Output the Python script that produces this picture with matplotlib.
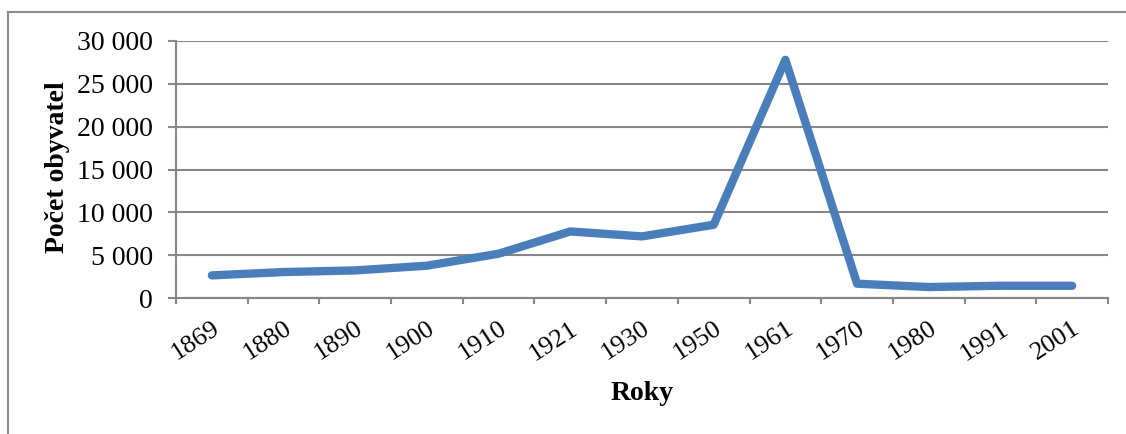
"""Population development by census year (line chart)."""

import numpy as np
from matplotlib import pyplot as plt
from matplotlib.lines import Line2D
from matplotlib.ticker import FuncFormatter

years = ["1869", "1880", "1890", "1900", "1910", "1921", "1930",
         "1950", "1961", "1970", "1980", "1991", "2001"]
population = [2640, 3030, 3220, 3770, 5170, 7770, 7190,
              8550, 27800, 1670, 1280, 1430, 1430]

W, H = 1126, 434
GRAY = "#868686"
BLUE = "#4a7ebb"

plt.rcParams["font.family"] = ["Liberation Serif", "DejaVu Serif"]

fig = plt.figure(figsize=(W / 100, H / 100), dpi=100)
ax = fig.add_axes([176 / W, 1 - 298 / H, 932 / W, 257 / H])

x = np.arange(len(years))
ax.plot(x, population, color=BLUE, lw=6, solid_capstyle="round",
        solid_joinstyle="round", zorder=3)

ax.set_xlim(-0.5, len(years) - 0.5)
ax.set_ylim(0, 30000)
ax.set_yticks(np.arange(0, 30001, 5000))
ax.yaxis.set_major_formatter(FuncFormatter(lambda v, _: f"{int(v):,}".replace(",", " ")))

# category labels at centres, tick marks at boundaries
ax.set_xticks(np.arange(-0.5, len(years)), minor=False)
ax.set_xticklabels([])
ax.set_xticks(x, minor=True)
ax.set_xticklabels(years, minor=True)
ax.tick_params(axis="x", which="major", length=4, width=1.5, color=GRAY)
ax.tick_params(axis="x", which="minor", length=0, pad=14, labelsize=19)
for lbl in ax.get_xticklabels(minor=True):
    lbl.set_rotation(33)
    lbl.set_ha("right")
    lbl.set_rotation_mode("anchor")

ax.tick_params(axis="y", length=5.8, width=1.5, color=GRAY, pad=11, labelsize=20)

ax.grid(True, axis="y", color=GRAY, lw=1.5)
ax.set_axisbelow(True)
for side in ("top", "right"):
    ax.spines[side].set_visible(False)
for side in ("left", "bottom"):
    ax.spines[side].set_color(GRAY)
    ax.spines[side].set_linewidth(1.5)

fig.text(57 / W, 1 - 167 / H, "Počet obyvatel", rotation=90, ha="center",
         va="center", fontsize=20, fontweight="bold")
fig.text(642 / W, 1 - 393 / H, "Roky", ha="center", va="center",
         fontsize=20, fontweight="bold")

# outer chart frame (cut off at right and bottom)
fig.add_artist(Line2D([8 / W, 8 / W], [0, 1 - 12 / H], transform=fig.transFigure,
                      color="#8c8c8c", lw=1.5))
fig.add_artist(Line2D([8 / W, 1], [1 - 12 / H, 1 - 12 / H], transform=fig.transFigure,
                      color="#8c8c8c", lw=1.5))

fig.savefig("out.png", dpi=100)
